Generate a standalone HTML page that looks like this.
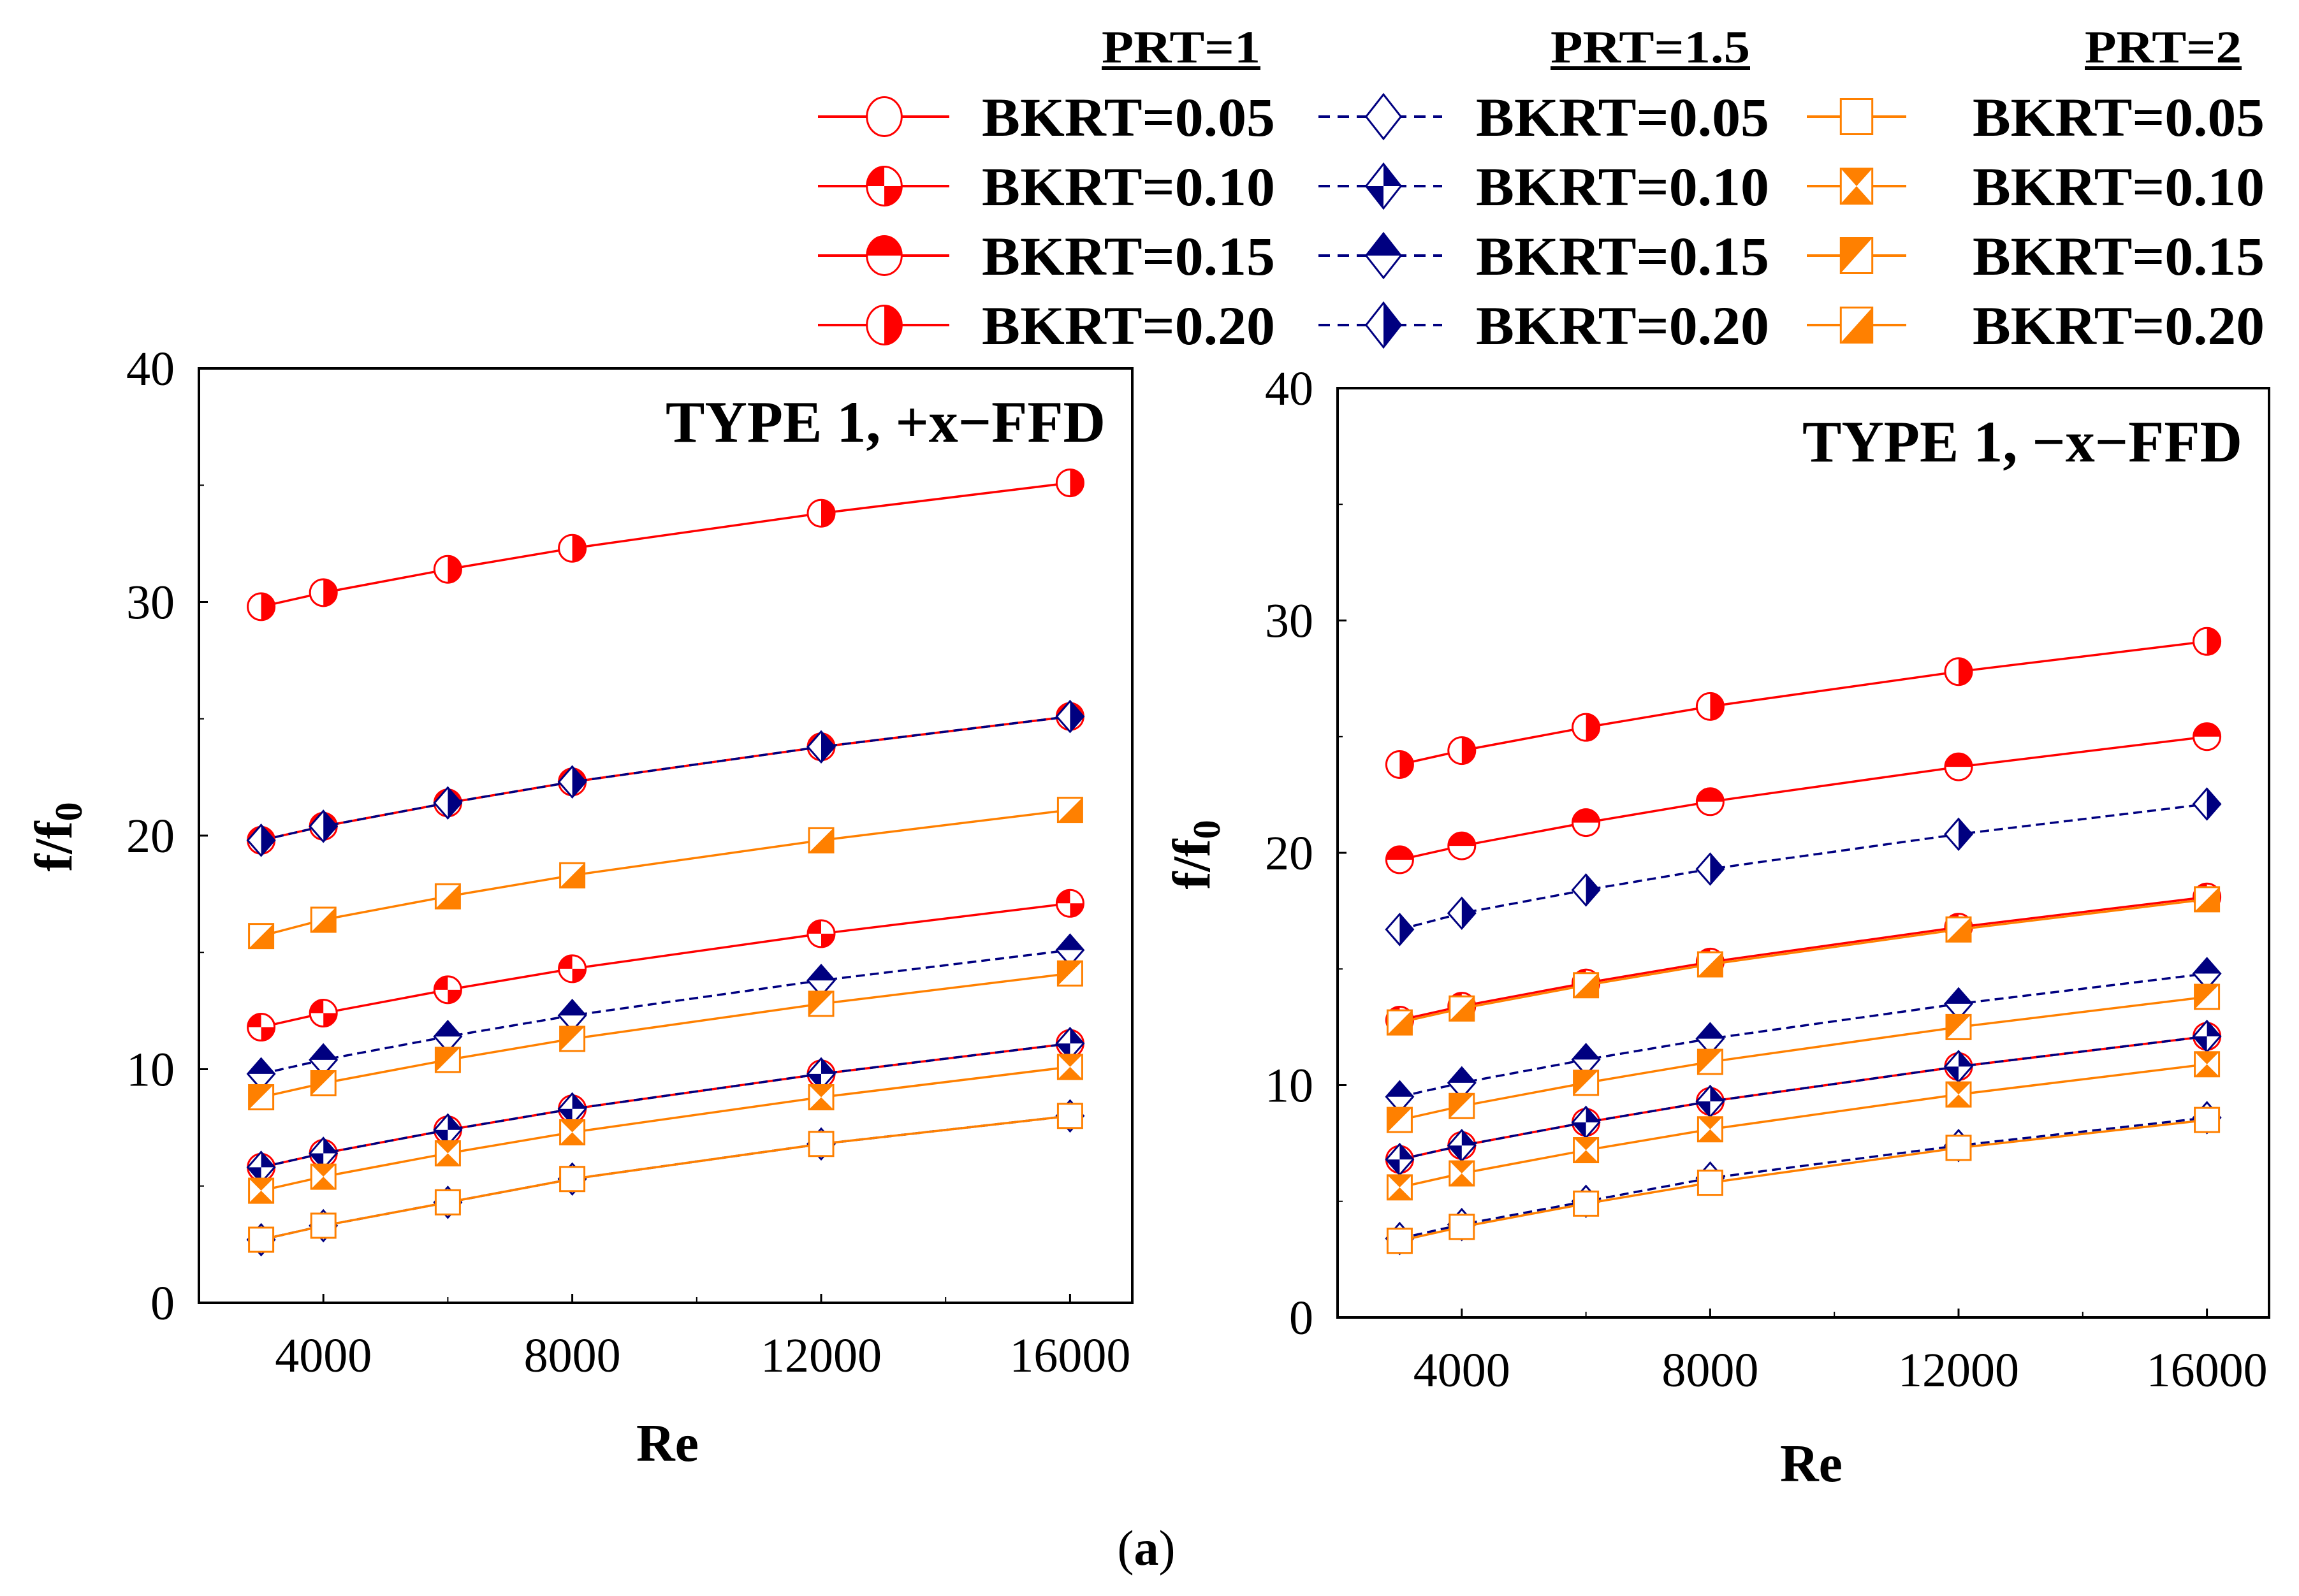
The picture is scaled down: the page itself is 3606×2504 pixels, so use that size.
<!DOCTYPE html>
<html><head><meta charset="utf-8"><style>
html,body{margin:0;padding:0;background:#fff;}
svg{display:block;font-family:"Liberation Serif",serif;}
</style></head><body>
<svg id="chart" xmlns="http://www.w3.org/2000/svg" width="3606" height="2504" viewBox="0 0 3606 2504">
<rect x="0" y="0" width="3606" height="2504" fill="#fff"/>
<g id="legend"></g>
<g id="left"></g>
<g id="right"></g>
<text x="1798" y="2455" font-size="78" text-anchor="middle">(<tspan font-weight="bold">a</tspan>)</text>
</svg>
<script>
const reValues = [3000, 4000, 6000, 8000, 12000, 16000];
const xTicks = [4000, 8000, 12000, 16000];
const xMinorTicks = [6000, 10000, 14000];
const yTicks = [0, 10, 20, 30, 40];
const yMinorTicks = [5, 15, 25, 35];
const bkrtLabels = ["BKRT=0.05", "BKRT=0.10", "BKRT=0.15", "BKRT=0.20"];
const prtLabels = ["PRT=1", "PRT=1.5", "PRT=2"];

const leftPRT1 = [[5.8,6.4,7.4,8.3,9.8,11.1],[11.8,12.4,13.4,14.3,15.8,17.1],[19.8,20.4,21.4,22.3,23.8,25.1],[29.8,30.4,31.4,32.3,33.8,35.1]];
const leftPRT15 = [[2.7,3.3,4.3,5.3,6.8,8.0],[5.8,6.4,7.4,8.3,9.8,11.1],[9.8,10.4,11.4,12.3,13.8,15.1],[19.8,20.4,21.4,22.3,23.8,25.1]];
const leftPRT2 = [[2.7,3.3,4.3,5.3,6.8,8.0],[4.8,5.4,6.4,7.3,8.8,10.1],[8.8,9.4,10.4,11.3,12.8,14.1],[15.7,16.4,17.4,18.3,19.8,21.1]];
const rightPRT1 = [[6.8,7.4,8.4,9.3,10.8,12.1],[12.8,13.4,14.4,15.3,16.8,18.1],[19.7,20.3,21.3,22.2,23.7,25.0],[23.8,24.4,25.4,26.3,27.8,29.1]];
const rightPRT15 = [[3.4,4.0,5.0,6.0,7.4,8.6],[6.8,7.4,8.4,9.3,10.8,12.1],[9.5,10.1,11.1,12.0,13.5,14.8],[16.7,17.4,18.4,19.3,20.8,22.1]];
const rightPRT2 = [[3.3,3.9,4.9,5.8,7.3,8.5],[5.6,6.2,7.2,8.1,9.6,10.9],[8.5,9.1,10.1,11.0,12.5,13.8],[12.7,13.3,14.3,15.2,16.7,18.0]];

const NS = "http://www.w3.org/2000/svg";
const COLORS = ["#ff0000", "#000080", "#ff8000"];
const SHAPES = ["circle", "diamond", "square"];
const DASH = [null, "14 8", null];

function mk(tag, attrs, parent) {
  const e = document.createElementNS(NS, tag);
  for (const k in attrs) e.setAttribute(k, attrs[k]);
  parent.appendChild(e);
  return e;
}

function marker(g, shape, level, cx, cy, color, sx, sy) {
  sx = sx || 1; sy = sy || 1;
  const m = document.createElementNS(NS, "g");
  
  
  m.setAttribute('transform', `translate(${cx},${cy}) scale(${sx},${sy})`);
  g.appendChild(m);
  const st = {stroke: color, "stroke-width": 3, "vector-effect": "non-scaling-stroke", fill: "none"};
  const P = a => a.map(p => p.join(",")).join(" ");
  if (shape === "circle") {
    const r = 21;
    mk("circle", {cx: 0, cy: 0, r, fill: "#fff"}, m);
    let ds = [];
    if (level === 1) ds = [`M0 0 L${-r} 0 A${r} ${r} 0 0 1 0 ${-r} Z`, `M0 0 L${r} 0 A${r} ${r} 0 0 1 0 ${r} Z`];
    if (level === 2) ds = [`M${-r} 0 A${r} ${r} 0 0 1 ${r} 0 Z`];
    if (level === 3) ds = [`M0 ${-r} A${r} ${r} 0 0 1 0 ${r} Z`];
    ds.forEach(d => mk("path", {d, fill: color}, m));
    mk("circle", Object.assign({cx: 0, cy: 0, r}, st), m);
  } else if (shape === "diamond") {
    const h = 24, w = 21;
    const T = [0, -h], R = [w, 0], B = [0, h], L = [-w, 0], C = [0, 0];
    mk("polygon", {points: P([T, R, B, L]), fill: "#fff"}, m);
    let ps = [];
    if (level === 1) ps = [[T, R, C], [L, B, C]];
    if (level === 2) ps = [[L, T, R]];
    if (level === 3) ps = [[T, R, B]];
    ps.forEach(p => mk("polygon", {points: P(p), fill: color}, m));
    mk("polygon", Object.assign({points: P([T, R, B, L])}, st), m);
  } else {
    const s = 19;
    const TL = [-s, -s], TR = [s, -s], BR = [s, s], BL = [-s, s], C = [0, 0];
    mk("rect", {x: -s, y: -s, width: 2*s, height: 2*s, fill: "#fff"}, m);
    let ps = [];
    if (level === 1) ps = [[TL, TR, C], [BL, BR, C]];
    if (level === 2) ps = [[TL, TR, BL]];
    if (level === 3) ps = [[TR, BR, BL]];
    ps.forEach(p => mk("polygon", {points: P(p), fill: color}, m));
    mk("rect", Object.assign({x: -s, y: -s, width: 2*s, height: 2*s}, st), m);
  }
}

function drawPlot(g, box, title, series, lab) {
  const xMin = 2000, xMax = 17000, yMin = 0, yMax = 40;
  const xs = v => box.x0 + (v - xMin) / (xMax - xMin) * (box.x1 - box.x0);
  const ys = v => box.y1 - (v - yMin) / (yMax - yMin) * (box.y1 - box.y0);
  const frame = mk("rect", {x: box.x0, y: box.y0, width: box.x1-box.x0, height: box.y1-box.y0, fill: "none", stroke: "#000", "stroke-width": 4}, g);
  
  
  yTicks.forEach(t => {
    const y = ys(t);
    const tk = mk("line", {x1: box.x0, x2: box.x0+14, y1: y, y2: y, stroke: "#000", "stroke-width": 3}, g);
    
    
    const tl = mk("text", {x: box.x0-38, y: y+26, "font-size": 76, "text-anchor": "end"}, g);
    tl.textContent = t;
    
    
  });
  yMinorTicks.forEach(t => {
    const tk = mk("line", {x1: box.x0, x2: box.x0+8, y1: ys(t), y2: ys(t), stroke: "#000", "stroke-width": 2}, g);
    
    
  });
  xTicks.forEach(t => {
    const x = xs(t);
    const tk = mk("line", {x1: x, x2: x, y1: box.y1, y2: box.y1-14, stroke: "#000", "stroke-width": 3}, g);
    
    
    const tl = mk("text", {x: x, y: box.y1+108, "font-size": 76, "text-anchor": "middle"}, g);
    tl.textContent = t;
    
    
  });
  xMinorTicks.forEach(t => {
    const tk = mk("line", {x1: xs(t), x2: xs(t), y1: box.y1, y2: box.y1-9, stroke: "#000", "stroke-width": 2}, g);
    
    
  });
  const tt = mk("text", {x: box.x1-42, y: box.y0+115, "font-size": 92, "font-weight": "bold", "text-anchor": "end"}, g);
  tt.textContent = title;
  
  
  const xt = mk("text", {x: lab.rx, y: lab.ry, "font-size": 84, "font-weight": "bold", "text-anchor": "middle"}, g);
  xt.textContent = "Re";
  
  
  const yt = mk("text", {x: 0, y: 0, "font-size": 84, "font-weight": "bold", "text-anchor": "middle", transform: `translate(${lab.fx},${lab.fy}) rotate(-90)`}, g);
  yt.innerHTML = 'f/f<tspan font-size="60" dy="16">0</tspan>';
  
  
  series.forEach((group, p) => {
    group.forEach((vals, b) => {
      const pts = vals.map((v, i) => xs(reValues[i]) + "," + ys(v)).join(" ");
      const attrs = {points: pts, fill: "none", stroke: COLORS[p], "stroke-width": 3.5};
      if (DASH[p]) attrs["stroke-dasharray"] = DASH[p];
      const ln = mk("polyline", attrs, g);
      
      
      vals.forEach((v, i) => marker(g, SHAPES[p], b, xs(reValues[i]), ys(v), COLORS[p]));
    });
  });
}

drawPlot(document.getElementById("left"), {x0: 312, x1: 1776, y0: 578, y1: 2044}, "TYPE 1, +x\u2212FFD",
  [leftPRT1, leftPRT15, leftPRT2], {rx: 1047, ry: 2292, fx: 112, fy: 1313});
drawPlot(document.getElementById("right"), {x0: 2098, x1: 3559, y0: 609, y1: 2067}, "TYPE 1, \u2212x\u2212FFD",
  [rightPRT1, rightPRT15, rightPRT2], {rx: 2841, ry: 2324, fx: 1897, fy: 1341});

// legend
const lg = document.getElementById("legend");
const legCols = [{l0: 1283, l1: 1489, mx: 1387, tx: 1540, tx1: 2000, hx0: 1728, hx1: 1977},
                 {l0: 2068, l1: 2262, mx: 2170, tx: 2315, tx1: 2775, hx0: 2432, hx1: 2745},
                 {l0: 2834, l1: 2990, mx: 2912, tx: 3094, tx1: 3552, hx0: 3270, hx1: 3516}];
const rowY = [183, 292, 401, 510];
legCols.forEach((c, p) => {
  const h = mk("text", {x: c.hx0, y: 98, "font-size": 72, "font-weight": "bold", textLength: c.hx1-c.hx0, lengthAdjust: "spacingAndGlyphs"}, lg);
  h.textContent = prtLabels[p];
  
  
  const u = mk("rect", {x: c.hx0, y: 104, width: c.hx1-c.hx0, height: 6, fill: "#000"}, lg);
  
  
  rowY.forEach((y, b) => {
    const attrs = {x1: c.l0, x2: c.l1, y1: y, y2: y, stroke: COLORS[p], "stroke-width": 4};
    if (DASH[p]) attrs["stroke-dasharray"] = "18 12";
    const ln = mk("line", attrs, lg);
    
    
    marker(lg, SHAPES[p], b, c.mx, y, COLORS[p], 1.3, 1.45);
    const t = mk("text", {x: c.tx, y: y+30, "font-size": 86, "font-weight": "bold", textLength: c.tx1-c.tx, lengthAdjust: "spacingAndGlyphs"}, lg);
    t.textContent = bkrtLabels[b];
    
    
  });
});
</script>
</body></html>
